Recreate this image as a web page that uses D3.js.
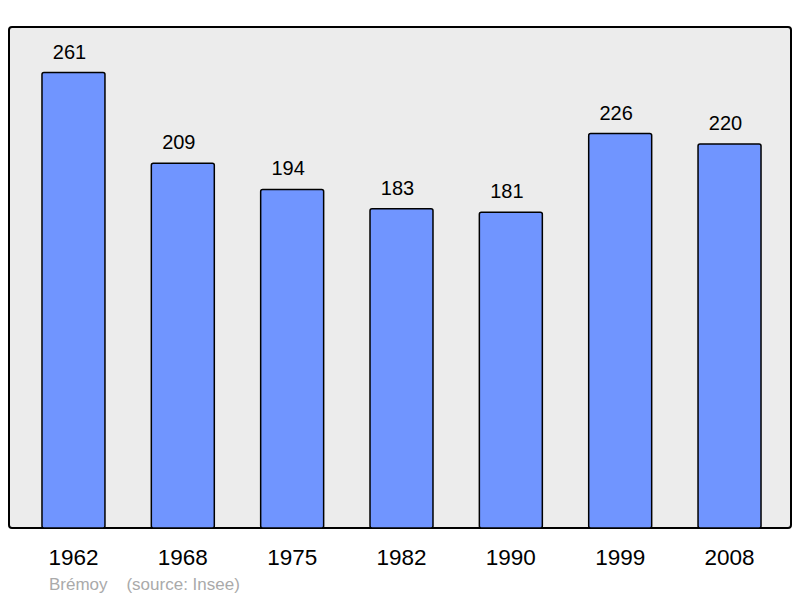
<!DOCTYPE html>
<html><head><meta charset="utf-8">
<script src="https://cdn.jsdelivr.net/npm/d3@7"></script>
<style>body{margin:0;background:#fff}svg{display:block}</style>
</head><body>
<svg id="c" width="800" height="598"></svg>
<script>
const years = ["1962","1968","1975","1982","1990","1999","2008"];
const population = [261,209,194,183,181,226,220];
const title = "Brémoy";
const source = "(source: Insee)";

const svg = d3.select("#c");
const panel = {x0:9, x1:791, y0:27, y1:528};
const x = d3.scaleBand().domain(years).range([18.8,784.2]).paddingInner(0.424).paddingOuter(0.212);
const y = d3.scaleLinear().domain([0, 261*1.1]).range([panel.y1, panel.y0]);

svg.append("rect").attr("x",panel.x0).attr("y",panel.y0)
  .attr("width",panel.x1-panel.x0).attr("height",panel.y1-panel.y0)
  .attr("rx",3).attr("fill","#ececec").attr("stroke","#000").attr("stroke-width",2);

svg.selectAll("rect.bar").data(population).join("rect").attr("class","bar")
  .attr("x",(d,i)=>x(years[i])).attr("y",d=>y(d))
  .attr("width",x.bandwidth()).attr("height",d=>y(0)-y(d))
  .attr("rx",2).attr("fill","#7095ff").attr("stroke","#000").attr("stroke-width",1.5);

svg.selectAll("text.val").data(population).join("text").attr("class","val")
  .attr("x",(d,i)=>x(years[i])+x.bandwidth()/2-4).attr("y",d=>y(d)-14)
  .attr("text-anchor","middle").attr("font-family","Liberation Sans, Arial, sans-serif")
  .attr("font-size",20).attr("fill","#000").text(d=>d);

svg.selectAll("text.yr").data(years).join("text").attr("class","yr")
  .attr("x",d=>x(d)+x.bandwidth()/2).attr("y",565)
  .attr("text-anchor","middle").attr("font-family","Liberation Sans, Arial, sans-serif")
  .attr("font-size",22.5).attr("fill","#000").text(d=>d);

svg.append("text").attr("x",49).attr("y",590)
  .attr("font-family","Liberation Sans, Arial, sans-serif").attr("font-size",17)
  .attr("fill","#aaaaaa").attr("xml:space","preserve").text(title + "    " + source);
</script>
</body></html>
